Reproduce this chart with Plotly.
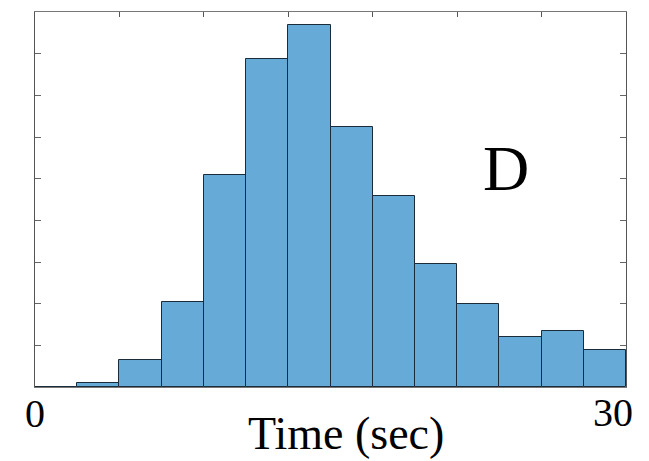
import plotly.graph_objects as go

# Histogram data (14 bins spanning 0-30 sec)
bin_width = 30 / 14
bin_centers = [bin_width * (i + 0.5) for i in range(14)]
counts = [0.0, 0.105, 0.66, 2.05, 5.10, 7.88, 8.68, 6.25, 4.58, 2.95, 2.0, 1.19, 1.35, 0.90]

x_tickvals = [30 / 7 * k for k in range(1, 7)]
y_tickvals = [1, 2, 3, 4, 5, 6, 7, 8]

serif = "Liberation Serif, Times New Roman, serif"

fig = go.Figure()
fig.add_trace(go.Bar(
    x=bin_centers, y=counts, width=bin_width,
    marker=dict(color="#66AAD7", line=dict(color="#1c2b3a", width=1)),
    showlegend=False, hoverinfo="skip",
))
# invisible trace for top axis
fig.add_trace(go.Scatter(x=[0, 30], y=[0, 0], xaxis="x2", mode="markers",
                         marker=dict(opacity=0), showlegend=False, hoverinfo="skip"))

fig.update_layout(
    width=649, height=461,
    margin=dict(l=34.5, r=23, t=12, b=74.3),
    paper_bgcolor="white", plot_bgcolor="white",
    bargap=0,
    xaxis=dict(range=[0, 30], showgrid=False, zeroline=False, showticklabels=False,
               ticks="", showline=True, linecolor="#777777", linewidth=1, mirror=True),
    xaxis2=dict(range=[0, 30], overlaying="x", side="top", anchor="y", showgrid=False,
                zeroline=False, showticklabels=False, ticks="inside", ticklen=5,
                tickcolor="#555555", tickvals=x_tickvals, showline=False),
    yaxis=dict(range=[0, 9], showgrid=False, zeroline=False, showticklabels=False,
               ticks="inside", ticklen=6, tickcolor="#666666", tickvals=y_tickvals,
               showline=True, linecolor="#555555", linewidth=1, mirror="ticks"),
    font=dict(family=serif, color="black"),
)

fig.add_annotation(x=0, xref="x", y=0, yref="paper", yshift=-26, yanchor="middle",
                   text="0", showarrow=False, font=dict(family=serif, size=40, color="black"))
fig.add_annotation(x=30, xref="x", y=0, yref="paper", xshift=-13, yshift=-25, yanchor="middle",
                   text="30", showarrow=False, font=dict(family=serif, size=40, color="black"))
fig.add_annotation(x=0.5, xref="paper", xshift=15, y=0, yref="paper", yshift=-46, yanchor="middle",
                   text="Time (sec)", showarrow=False, font=dict(family=serif, size=46, color="black"))
fig.add_annotation(x=23.9, xref="x", y=5.25, yref="y", yanchor="middle",
                   text="D", showarrow=False, font=dict(family=serif, size=64, color="black"))

fig.write_html("out.html")
